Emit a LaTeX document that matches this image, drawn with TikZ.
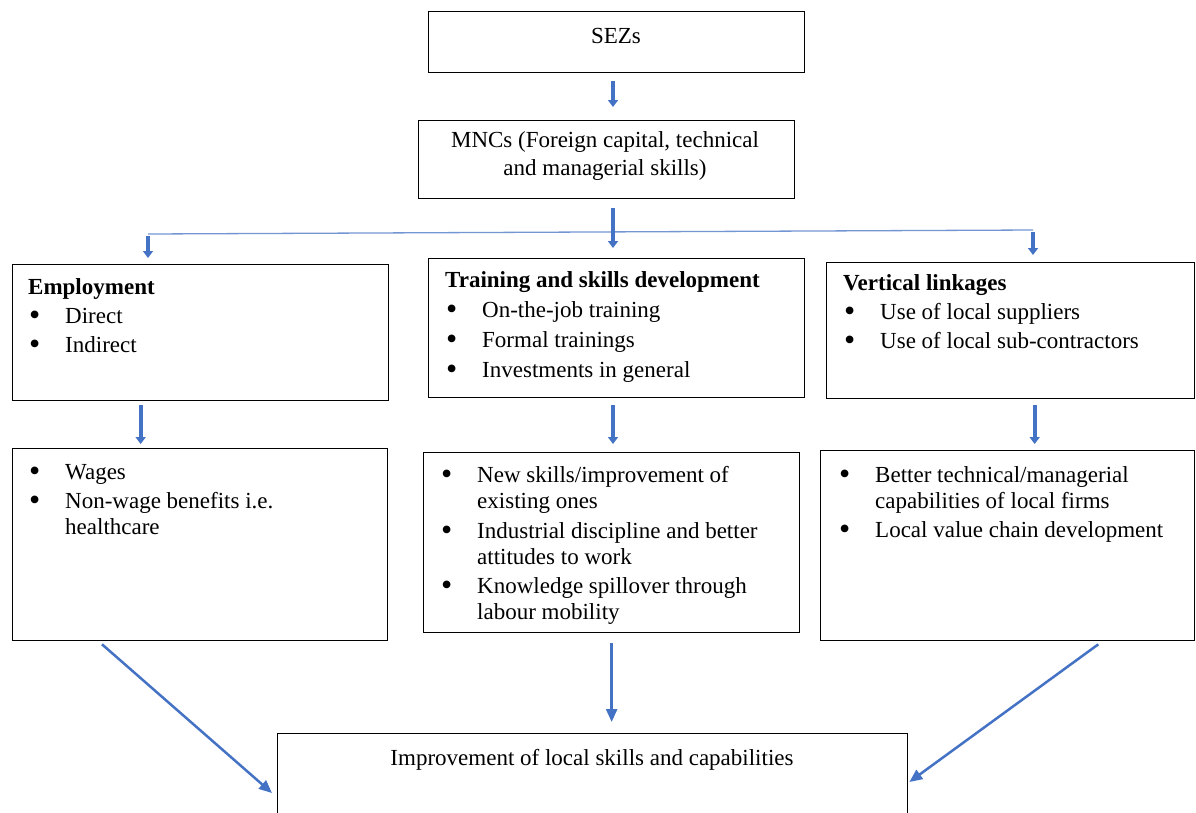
\documentclass[tikz,border=0pt]{standalone}
\usepackage{fontspec}
\setmainfont{Liberation Serif}
\usetikzlibrary{arrows.meta,positioning}
\definecolor{arrowblue}{RGB}{68,114,196}
\tikzset{
  box/.style = {rectangle, draw=black, line width=1.3pt, inner sep=0pt},
  txt/.style = {align=left, inner sep=0pt, font=\fontsize{23}{26}\selectfont},
  ctxt/.style = {txt, align=center, font=\fontsize{23}{28}\selectfont},
  blockarrow/.style = {-{Triangle[width=10pt,length=7pt]}, draw=arrowblue,
    line width=4pt},% short thick arrows
  thinarrow/.style = {-{Triangle[width=11pt,length=13pt]}, draw=arrowblue,
    line width=2.5pt},% long arrows to the last box
  branch/.style = {draw=arrowblue!75, line width=1.3pt}
}
\newcommand{\blt}{\hspace*{1pt}\makebox[36pt][l]{\smash{\raisebox{-2pt}{\fontsize{32}{26}\selectfont\textbullet}}}}
\newcommand{\ind}{\hspace*{37pt}}

\begin{document}
\begin{tikzpicture}[x=1pt,y=-1pt]
\clip (0,0) rectangle (1196,812);
% top
\node [box, minimum width=376pt, minimum height=61pt, anchor=north west] (sez) at (428,11) {};
\node [ctxt] (seztxt) at (616,36) {SEZs};
\node [box, minimum width=376pt, minimum height=78pt, anchor=north west] (mnc) at (418,120) {};
\node [ctxt] (mnctxt) at (605,156) {MNCs (Foreign capital, technical\\and managerial skills)};
% first row
\node [box, minimum width=376pt, minimum height=136pt, anchor=north west] (emp) at (12,264) {};
\node [txt, anchor=north west] (emptxt) at (28,278)
  {\textbf{Employment}\\[3pt] \blt Direct\\[3pt] \blt Indirect};
\node [box, minimum width=376pt, minimum height=139pt, anchor=north west] (train) at (428,258) {};
\node [txt, anchor=north west] (traintxt) at (445,271)
  {\textbf{Training and skills development}\\[4pt] \blt On-the-job training\\[4pt]
   \blt Formal trainings\\[4pt] \blt Investments in general};
\node [box, minimum width=368pt, minimum height=136pt, anchor=north west] (link) at (826,262) {};
\node [txt, anchor=north west] (linktxt) at (843,274)
  {\textbf{Vertical linkages}\\[3pt] \blt Use of local suppliers\\[3pt] \blt Use of local sub-contractors};
% second row
\node [box, minimum width=375pt, minimum height=192pt, anchor=north west] (emp2) at (12,448) {};
\node [txt, anchor=north west] (emp2txt) at (28,464)
  {\blt Wages\\[3pt] \blt Non-wage benefits i.e.\\ \ind healthcare};
\node [box, minimum width=376pt, minimum height=180pt, anchor=north west] (train2) at (423,452) {};
\node [txt, anchor=north west] (train2txt) at (440,466)
  {\blt New skills/improvement of\\ \ind existing ones\\[4pt]
   \blt Industrial discipline and better\\ \ind attitudes to work\\[3pt]
   \blt Knowledge spillover through\\ \ind labour mobility};
\node [box, minimum width=374pt, minimum height=190pt, anchor=north west] (link2) at (820,450) {};
\node [txt, anchor=north west] (link2txt) at (838,466)
  {\blt Better technical/managerial\\ \ind capabilities of local firms\\[3pt]
   \blt Local value chain development};
% last box, cut by the page
\node [box, minimum width=630pt, minimum height=130pt, anchor=north west] (imp) at (277,733) {};
\node [ctxt] (imptxt) at (592,760) {Improvement of local skills and capabilities};
% connectors
\coordinate (cx) at (613,0);
\coordinate (brL) at (148,234);
\coordinate (brR) at (1033,230);
\draw [blockarrow] ([yshift=-8pt]cx |- sez.south) -- ([yshift=13pt]cx |- mnc.north);
\draw [branch] (brL) -- (brR);
\draw [blockarrow] ([yshift=-9pt]cx |- mnc.south) -- ([yshift=10pt]cx |- train.north);
\draw [blockarrow] ([yshift=-2pt]brL) -- ([yshift=6pt]brL |- emp.north);
\draw [blockarrow] ([yshift=-2pt]brR) -- ([yshift=7pt]brR |- link.north);
\draw [blockarrow] ([xshift=-60pt,yshift=-4pt]emp.south) -- ([xshift=-60pt,yshift=4pt]emp.south |- emp2.north);
\draw [blockarrow] ([yshift=-7pt]cx |- train.south) -- ([yshift=8pt]cx |- train2.north);
\draw [blockarrow] ([xshift=24pt,yshift=-6pt]link.south) -- ([xshift=24pt,yshift=6pt]link.south |- link2.north);
\draw [thinarrow] ([yshift=-10pt]train2.south) -- ([yshift=11pt]imp.north -| train2.south);
\draw [thinarrow] ([xshift=90pt,yshift=-3pt]emp2.south west) -- ([xshift=-5pt,yshift=-60pt]imp.north west);
\draw [thinarrow] ([xshift=-97pt,yshift=-3pt]link2.south east) -- ([xshift=1pt,yshift=-49pt]imp.north east);
\end{tikzpicture}
\end{document}
